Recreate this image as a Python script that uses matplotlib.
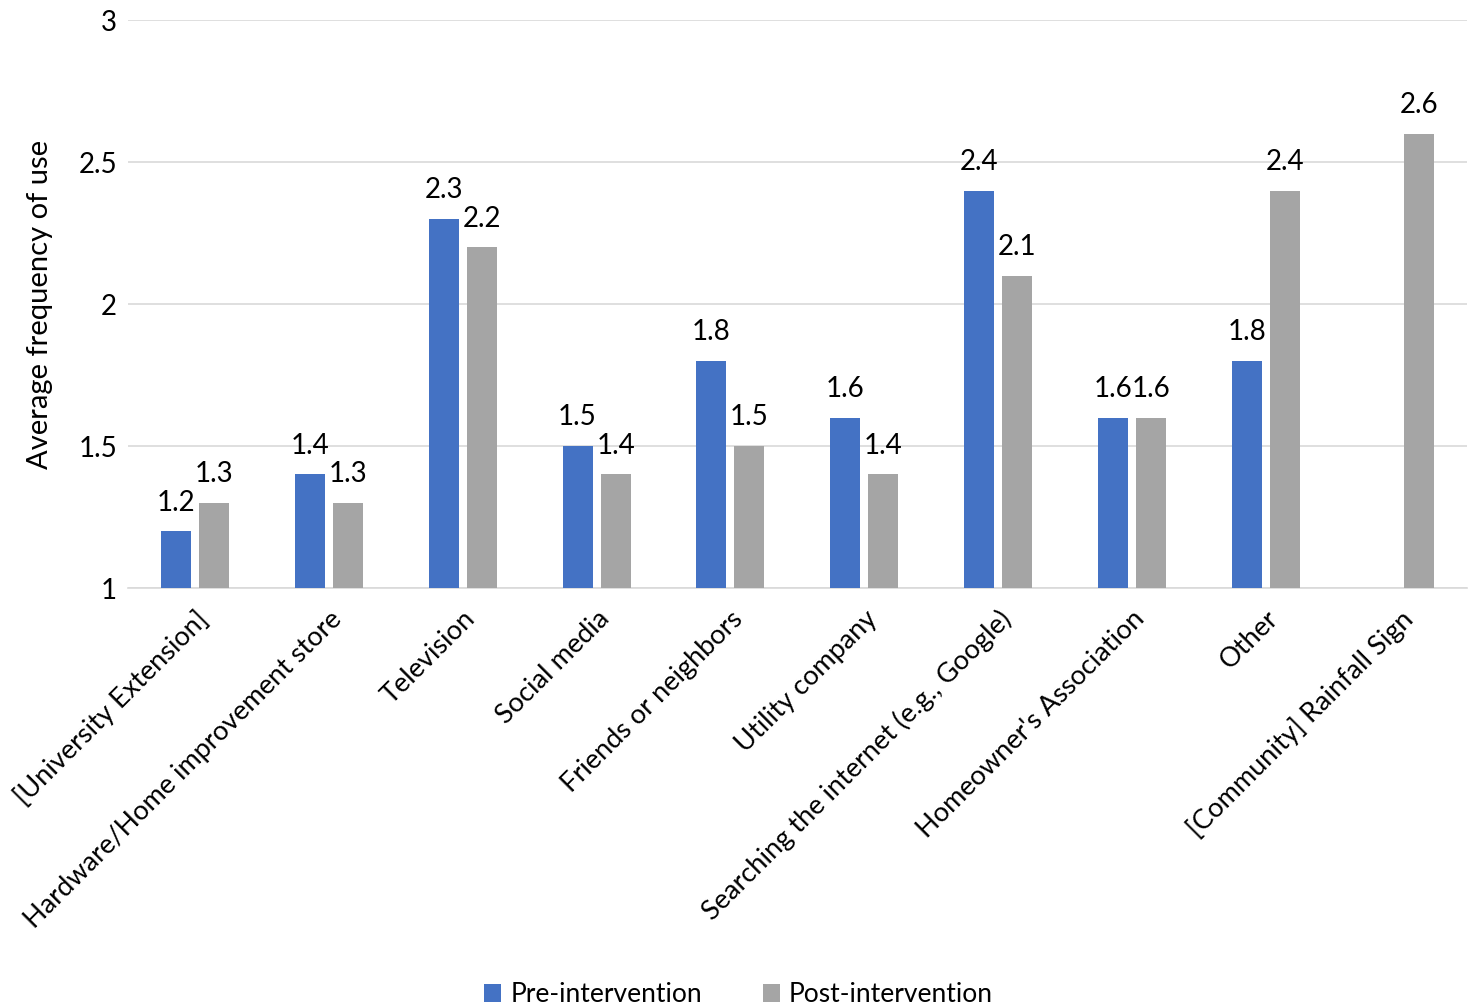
import numpy as np
import matplotlib
matplotlib.use("Agg")
import matplotlib.pyplot as plt

categories = ["[University Extension]", "Hardware/Home improvement store", "Television",
              "Social media", "Friends or neighbors", "Utility company",
              "Searching the internet (e.g., Google)", "Homeowner's Association",
              "Other", "[Community] Rainfall Sign"]
pre = [1.2, 1.4, 2.3, 1.5, 1.8, 1.6, 2.4, 1.6, 1.8, np.nan]
post = [1.3, 1.3, 2.2, 1.4, 1.5, 1.4, 2.1, 1.6, 2.4, 2.6]
series_names = ["Pre-intervention", "Post-intervention"]
yticks = [1, 1.5, 2, 2.5, 3]
ytick_labels = ["1", "1.5", "2", "2.5", "3"]

plt.rcParams['font.family'] = ['Lato', 'DejaVu Sans']

fig = plt.figure(figsize=(14.77, 10.07), dpi=100)
ax = fig.add_axes([0.0867, 0.416, 0.9063, 0.564])

x = np.arange(len(categories))
w = 0.224
off = 0.142
blue = "#4472C4"
gray = "#A5A5A5"
b1 = ax.bar(x - off, np.array(pre) - 1, w, bottom=1, color=blue, label=series_names[0], zorder=3)
b2 = ax.bar(x + off, np.array(post) - 1, w, bottom=1, color=gray, label=series_names[1], zorder=3)

fs = 20
for xi, v in zip(x, pre):
    if not np.isnan(v):
        ax.text(xi - off, v + 0.055, f"{v:.1f}", ha="center", va="bottom", fontsize=fs, color="black")
for xi, v in zip(x, post):
    ax.text(xi + off, v + 0.055, f"{v:.1f}", ha="center", va="bottom", fontsize=fs, color="black")

ax.set_xlim(-0.5, len(categories) - 0.5)
ax.set_ylim(1, 3)
ax.set_yticks(yticks)
ax.set_yticklabels(ytick_labels, fontsize=fs)
ax.yaxis.grid(True, color="#D9D9D9", linewidth=1.2, zorder=0)
ax.set_axisbelow(True)
for s in ["top", "right", "left"]:
    ax.spines[s].set_visible(False)
ax.spines["bottom"].set_color("#D9D9D9")
ax.spines["bottom"].set_linewidth(1.2)
ax.tick_params(axis="y", length=0, pad=8)
ax.tick_params(axis="x", length=0, pad=13)
ax.set_xticks(x)
ax.set_xticklabels(categories, rotation=45, ha="right", rotation_mode="anchor", fontsize=19.5)
ax.set_ylabel("Average frequency of use", fontsize=21, labelpad=18)

fig.legend(handles=[b1, b2], labels=series_names, loc="lower center", ncol=2, frameon=False,
           fontsize=19, bbox_to_anchor=(0.5, -0.024), handlelength=0.65, handleheight=0.65,
           columnspacing=2.3, handletextpad=0.35)

fig.savefig("out.png", dpi=100)
